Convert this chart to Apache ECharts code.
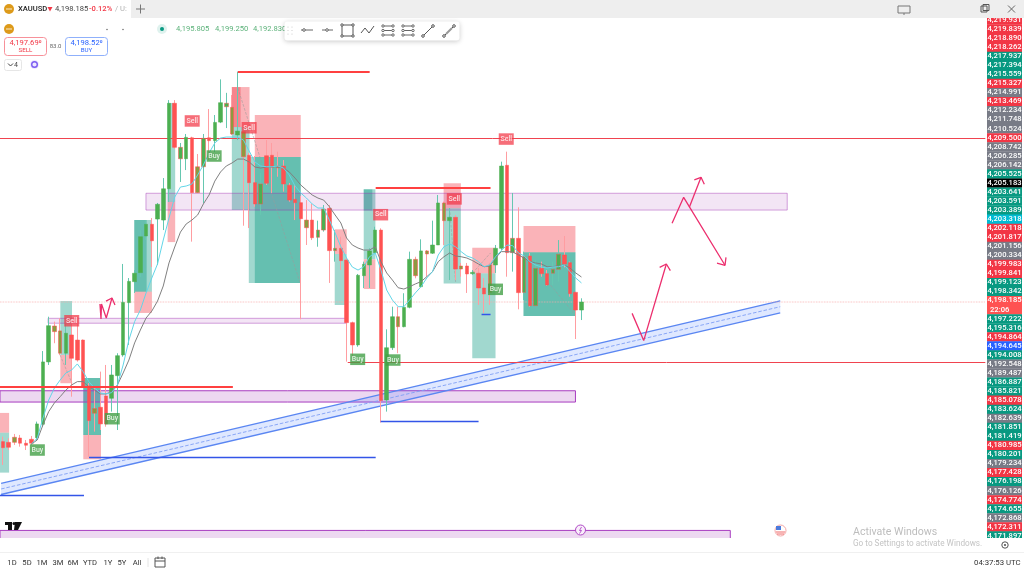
<!DOCTYPE html>
<html><head><meta charset="utf-8"><style>html,body{margin:0;padding:0;background:#fff;overflow:hidden}#c{width:1024px;height:568px}</style></head>
<body><div id="c"></div>
<script src="https://cdn.jsdelivr.net/npm/echarts@6/dist/echarts.min.js"></script>
<script>
// candles: [open, close, low, high]
const candles = [
[4188.55,4188.13,4186.94,4188.89],[4188.50,4188.16,4187.97,4188.78],[4188.85,4188.50,4188.32,4189.08],[4188.80,4188.44,4188.20,4189.01],
[4188.44,4188.30,4187.97,4188.66],[4188.71,4188.44,4188.32,4188.94],[4188.82,4189.77,4188.66,4189.93],[4189.75,4194.05,4189.58,4194.80],
[4194.05,4196.55,4193.84,4197.17],[4196.53,4196.14,4195.34,4196.83],[4196.19,4194.65,4194.53,4197.06],[4194.65,4196.03,4193.84,4196.72],
[4195.91,4194.30,4191.65,4196.72],[4195.56,4194.18,4194.07,4197.17],[4195.56,4192.39,4192.30,4195.60],[4192.39,4190.00,4187.51,4192.58],
[4190.83,4190.51,4189.24,4192.34],[4190.92,4189.77,4189.35,4193.38],[4191.70,4189.77,4189.58,4193.84],[4191.54,4193.15,4190.62,4193.84],
[4193.10,4194.48,4189.35,4194.65],[4194.53,4198.16,4194.41,4200.81],[4198.14,4199.61,4195.22,4199.84],[4199.59,4200.17,4198.81,4200.39],
[4200.21,4202.69,4199.91,4203.15],[4202.74,4203.55,4202.46,4203.84],[4203.55,4202.41,4200.60,4203.98],[4203.91,4204.93,4200.74,4205.02],
[4203.84,4206.00,4203.15,4206.74],[4206.00,4211.90,4205.09,4212.12],[4211.90,4208.86,4208.74,4212.12],[4208.07,4208.86,4206.47,4209.16],
[4208.07,4209.55,4207.29,4209.78],[4209.52,4205.73,4202.35,4209.59],[4207.52,4205.73,4205.71,4208.40],[4207.52,4209.48,4205.02,4209.78],
[4209.52,4209.32,4207.98,4211.50],[4209.32,4210.58,4208.53,4211.09],[4210.60,4211.94,4210.53,4213.55],[4211.66,4211.90,4210.19,4212.62],
[4211.62,4209.78,4209.71,4212.47],[4209.71,4209.98,4209.36,4214.08],[4209.94,4208.21,4203.45,4210.28],[4208.31,4206.42,4203.29,4208.47],
[4206.42,4204.95,4204.76,4208.26],[4204.95,4206.33,4204.19,4207.09],[4208.28,4206.38,4206.26,4209.36],[4208.31,4207.48,4205.71,4209.16],
[4207.57,4207.45,4206.83,4208.56],[4207.57,4206.33,4205.80,4207.98],[4206.24,4205.22,4205.11,4206.40],[4205.27,4205.04,4203.84,4206.26],
[4205.04,4203.93,4196.99,4205.50],[4203.84,4203.31,4202.12,4205.22],[4203.84,4202.62,4202.46,4204.95],[4202.65,4203.15,4202.00,4203.80],
[4203.15,4204.60,4203.04,4204.88],[4204.65,4201.73,4199.50,4204.88],[4201.73,4201.89,4200.97,4203.15],[4201.89,4201.04,4200.39,4202.69],
[4201.08,4196.76,4194.07,4201.22],[4196.76,4195.22,4194.41,4196.83],[4195.22,4200.03,4195.10,4200.12],[4200.00,4200.79,4199.15,4200.97],
[4200.74,4201.71,4199.15,4201.89],[4201.59,4203.15,4201.55,4203.38],[4203.15,4191.38,4189.86,4203.27],[4191.42,4195.03,4190.62,4196.30],
[4195.03,4197.17,4194.87,4197.86],[4197.17,4196.48,4194.65,4197.86],[4196.48,4197.82,4196.44,4198.79],[4197.82,4201.13,4197.75,4201.66],
[4201.13,4200.00,4199.82,4201.31],[4199.24,4201.71,4199.20,4202.51],[4201.71,4201.50,4199.93,4201.77],[4201.55,4202.12,4201.50,4203.80],
[4202.12,4205.02,4202.12,4205.57],[4205.02,4203.80,4202.12,4205.11],[4203.80,4204.03,4199.70,4204.67],[4204.03,4200.46,4199.70,4204.19],
[4200.67,4200.46,4199.93,4200.88],[4200.67,4200.12,4198.81,4200.88],[4200.14,4200.23,4200.05,4200.39],[4200.17,4199.15,4197.98,4200.53],
[4199.15,4198.74,4197.43,4199.84],[4200.74,4198.85,4197.98,4200.88],[4200.74,4201.89,4200.19,4202.12],[4201.89,4207.57,4201.77,4207.87],
[4207.62,4201.59,4199.93,4208.56],[4201.59,4202.58,4200.28,4205.71],[4202.58,4198.83,4197.68,4204.72],[4198.85,4201.31,4198.32,4201.66],
[4201.36,4197.93,4197.86,4201.57],[4197.93,4200.51,4197.86,4201.08],[4200.51,4200.14,4199.93,4200.97],[4200.14,4199.36,4199.30,4200.39],
[4200.17,4200.44,4199.36,4200.97],[4200.44,4201.48,4199.59,4202.46],[4201.43,4200.81,4200.58,4202.74],[4200.90,4198.76,4198.55,4200.97],
[4198.85,4197.63,4195.63,4198.90],[4197.63,4198.185,4196.94,4198.44]];
// candles whose body shows both colours
const mixedBodies = [2,9,10,16,31,34,35,39,40,42,45,48,53,55,56,58,69,72,74,77,80,85,89,91,93,96,97];
const maStart = 5;
const maGrey = [4188.39,4188.66,4189.70,4190.62,4191.22,4191.65,4192.11,4192.46,4192.69,4192.69,4192.34,4192.11,4191.84,4191.84,4192.00,4192.46,4193.29,4194.18,4195.36,4196.25,4197.08,4197.56,4198.25,4199.29,4200.88,4201.98,4203.01,4203.57,4203.84,4204.19,4204.95,4205.57,4206.53,4207.16,4207.57,4207.78,4208.05,4208.05,4207.85,4207.50,4207.43,4207.50,4207.52,4207.52,4207.43,4207.16,4206.74,4206.26,4205.91,4205.57,4205.36,4205.22,4204.76,4204.19,4203.64,4202.60,4202.12,4201.91,4201.77,4201.77,4202.00,4200.97,4200.19,4199.70,4199.17,4199.08,4199.24,4199.43,4199.59,4199.93,4200.28,4200.97,4201.31,4201.57,4201.36,4201.31,4201.22,4201.04,4200.81,4200.62,4200.67,4201.22,4201.66,4201.66,4201.64,4201.43,4201.22,4200.97,4200.88,4200.81,4200.62,4200.62,4200.69,4200.74,4200.53,4200.19,4199.91];
const maCyan = [4188.39,4188.78,4190.18,4191.42,4192.25,4192.80,4193.29,4193.49,4193.91,4193.38,4192.69,4192.25,4191.91,4191.84,4191.93,4192.46,4193.84,4195.56,4196.83,4197.63,4198.81,4199.84,4200.81,4202.46,4203.98,4205.43,4206.12,4206.19,4206.33,4206.95,4207.64,4208.47,4209.16,4209.50,4209.57,4209.57,4209.57,4209.36,4208.60,4207.85,4207.57,4207.52,4207.52,4207.57,4207.43,4206.95,4206.19,4205.71,4205.36,4204.95,4204.67,4204.67,4203.84,4202.95,4202.00,4201.22,4200.60,4200.39,4200.62,4201.31,4201.57,4200.39,4199.01,4198.32,4197.86,4197.86,4198.32,4198.81,4199.24,4199.84,4200.28,4201.43,4202.00,4202.19,4202.00,4201.66,4201.36,4201.22,4200.97,4200.62,4200.74,4201.31,4201.73,4202.12,4202.07,4201.57,4201.36,4200.97,4200.74,4200.60,4200.53,4200.60,4200.62,4200.74,4200.28,4199.84,4199.50];
// boxes: [barFrom, barTo, priceTop, priceBottom]
const tealBoxes = [[23.44,26.52,4203.84,4198.90],[23.44,25.6,4203.84,4198.90],[29.26,30.58,4211.92,4205.09],[40.47,43.56,4210.26,4204.53],[44.48,52.5,4208.19,4199.50],[43.43,52.5,4208.19,4199.50],[10.53,12.57,4198.25,4194.53],[14.54,17.63,4192.94,4189.01],[14.54,17.63,4192.94,4189.01],[0,1.59,4189.17,4186.41],[58.43,60.52,4201.50,4197.98],[63.49,65.53,4205.96,4201.13],[63.49,65.0,4205.96,4204.5],[77.44,80.45,4204.65,4199.47],[82.44,86.5,4200.17,4194.30],[91.39,100.45,4201.62,4197.22],[91.39,100.45,4201.62,4197.22]];
const pinkBoxes = [[23.44,26.52,4198.90,4197.43],[29.26,30.58,4205.09,4202.32],[40.47,43.56,4213.02,4210.26],[40.47,42.0,4213.02,4210.26],[44.48,52.5,4211.09,4208.19],[10.53,12.57,4194.53,4192.58],[14.54,17.63,4189.01,4187.33],[0,1.59,4190.53,4189.17],[58.43,60.52,4203.20,4201.50],[63.49,65.53,4201.13,4199.08],[77.44,80.45,4206.38,4204.65],[82.44,86.5,4201.93,4200.17],[91.39,100.45,4203.43,4201.62]];
const lightZones = [[25.48,137.42,4205.69,4204.53],[8.39,60.35,4197.06,4196.72]];
const deepZones = [[0,100.45,4192.06,4191.28],[0,127.48,4182.42,4181.5]];
// levels: [barFrom, barTo, price]
const thickRedLevels = [[41.52,64.53,4214.06],[65.58,85.63,4206.05],[0,40.65,4192.29]];
const thinRedLevels = [[0,172,4209.50],[60.7,172,4194.04]];
const blueLevels = [[15.54,65.58,4187.49],[0,14.66,4184.84],[66.45,83.54,4189.94],[84.06,85.63,4197.39]];
const lastPrice = 4198.185;
// up-sloping channel: [bar, price] at both ends
const channelTop = [[0.19,4185.66],[136.2,4198.27]];
const channelBottom = [[0.19,4184.90],[136.2,4197.44]];
const channelMid = [[0.19,4185.28],[136.2,4197.86]];
// hand-drawn arrows
const arrows = [
 [[17.45,4198.05],[17.63,4197.01],[17.72,4198.05],[18.55,4197.08],[19.55,4198.46]],
 [[18.5,4198.25],[19.55,4198.46],[20.07,4197.98]],
 [[110.34,4197.40],[112.37,4195.52],[116.32,4200.81]],
 [[115.15,4200.58],[116.32,4200.81],[117.02,4200.35]],
 [[117.32,4203.62],[119.34,4205.41],[126.56,4200.72]],
 [[125.16,4200.86],[126.56,4200.72],[126.73,4201.27]],
 [[120.33,4204.72],[122.37,4206.79]],
 [[121.2,4206.61],[122.37,4206.79],[122.95,4206.31]]];
const dashedRuns = [
 [[41.52,4212.95],[52.33,4199.57]],[[78.48,4204.67],[79.53,4199.57]],[[91.39,4201.57],[100.45,4197.29]],[[10.48,4194.53],[12.57,4192.58]],[[82.5,4200.19],[85.63,4201.57]]];
const sellMarks = [[33.55,4210.68],[43.49,4210.21],[12.52,4196.89],[66.45,4204.21],[79.3,4205.30],[88.37,4209.43]];
const buyMarks = [[37.38,4208.26],[6.52,4187.97],[19.6,4190.13],[62.44,4194.23],[68.6,4194.18],[86.5,4199.06]];
const priceTags = ['4,219.931','4,219.839','4,218.890','4,218.262','4,217.937','4,217.394','4,215.559','4,215.327','4,214.991','4,213.469','4,212.234','4,211.748','4,210.524','4,209.500','4,208.742','4,206.285','4,206.142','4,205.525','4,205.183','4,203.641','4,203.591','4,203.389','4,203.318','4,202.118','4,201.817','4,201.156','4,200.334','4,199.983','4,199.841','4,199.123','4,198.342','4,198.185','22:06','4,197.222','4,195.316','4,194.864','4,194.645','4,194.008','4,192.548','4,189.487','4,186.887','4,185.821','4,185.078','4,183.624','4,182.639','4,181.851','4,181.419','4,180.985','4,180.201','4,179.234','4,177.428','4,176.198','4,176.126','4,174.774','4,174.655','4,172.868','4,172.311','4,171.897'];
const tagTones = 'rrrrgggrnrnnnrnnngkgggcrrnnrrgglLggrbgnnggrgnggrgnrgnrgnrg';
const rangeLabels = ['1D','5D','1M','3M','6M','YTD','1Y','5Y','All'];

const toneColor = {r:'#f23645',g:'#089981',n:'#787b86',k:'#000000',c:'#00bcd4',b:'#2962ff',l:'#ff5252',L:'#ff5252'};
const UP='#4caf50', DOWN='#ff5252';
const cats = Array.from({length:172},(_,i)=>String(i));
const padMA = a => Array(maStart).fill('-').concat(a);

const boxSeries = (data, fill, stroke, z) => ({
  type:'custom', xAxisIndex:1, yAxisIndex:0, clip:true, z, silent:true, data,
  encode:{x:[0,1],y:[2,3]},
  renderItem:(p,api)=>{
    const a=api.coord([api.value(0),api.value(2)]), b=api.coord([api.value(1),api.value(3)]);
    return {type:'rect',shape:{x:a[0],y:a[1],width:b[0]-a[0],height:b[1]-a[1]},
      style:{fill,stroke:stroke||null,lineWidth:stroke?1:0}};
  }});
const pathSeries = (data,color,width,type,z,op) => ({
  type:'line', xAxisIndex:1, yAxisIndex:0, data, showSymbol:false, symbol:'none', silent:true, z,
  lineStyle:{color,width,type:type||'solid',opacity:op==null?1:op}, animation:false});
// horizontal levels, snapped to whole pixels so they stay crisp
const levelSeries = (lv,color,width,z) => ({
  type:'custom', xAxisIndex:1, yAxisIndex:0, clip:true, z, silent:true, data:lv,
  encode:{x:[0,1],y:2},
  renderItem:(p,api)=>{
    const a=api.coord([api.value(0),api.value(2)]), b=api.coord([api.value(1),api.value(2)]);
    const y=width===2?Math.round(a[1]):Math.round(a[1])+0.5;
    return {type:'line',shape:{x1:a[0],y1:y,x2:b[0],y2:y},style:{stroke:color,lineWidth:width}};
  }});
const markSeries = (data,text,bg,z) => ({
  type:'scatter', xAxisIndex:1, yAxisIndex:0, data, symbol:'rect', symbolSize:[15,11.5], z, silent:true,
  itemStyle:{color:bg},
  label:{show:true,position:'inside',formatter:text,color:'#fff',fontSize:7,fontFamily:'Roboto',fontWeight:500}});

const series = [
  boxSeries(tealBoxes,'rgba(0,150,125,0.37)',null,2),
  boxSeries(pinkBoxes,'rgba(242,54,69,0.38)',null,2),
  boxSeries(lightZones,'rgba(156,39,176,0.12)','rgba(156,39,176,0.42)',3),
  boxSeries(deepZones,'rgba(156,39,176,0.18)','#a83cc0',3),
  { type:'custom', xAxisIndex:1, yAxisIndex:0, clip:true, z:3, silent:true, data:[0],
    renderItem:(p,api)=>({type:'polygon',shape:{points:[channelTop[0],channelTop[1],channelBottom[1],channelBottom[0]].map(c=>api.coord(c))},
      style:{fill:'rgba(41,98,255,0.15)'}}) },
  pathSeries(channelTop,'#5a86f2',1.3,'solid',4),
  pathSeries(channelBottom,'#5a86f2',1.3,'solid',4),
  pathSeries(channelMid,'#7f9ff5',0.9,'dashed',4),
  ...dashedRuns.map(d=>pathSeries(d,'#9a9a9a',0.7,'dashed',5,0.8)),
  pathSeries([[0,lastPrice],[172,lastPrice]],'#f9a9a9',0.8,'dotted',5),
  levelSeries(thinRedLevels,'#f0434f',1,5),
  { type:'candlestick', xAxisIndex:0, yAxisIndex:0, z:6, barWidth:1, silent:true, data:candles,
    itemStyle:{color:'#7fd0bd',color0:'#ffa8ab',borderColor:'#66c7b0',borderColor0:'#ff9da1',borderWidth:1} },
  { type:'candlestick', xAxisIndex:0, yAxisIndex:0, z:7, barWidth:4, silent:true,
    data:candles.map((c,i)=>{
      const v=[c[0],c[1],Math.min(c[0],c[1]),Math.max(c[0],c[1])];
      return mixedBodies.includes(i)
        ? {value:v,itemStyle:{color:c[1]>=c[0]?UP:'#8d9a3f',color0:'#c97a43',borderColor:DOWN,borderColor0:UP}}
        : v;
    }),
    itemStyle:{color:UP,color0:DOWN,borderColor:UP,borderColor0:DOWN,borderWidth:0.5} },
  { type:'line', xAxisIndex:0, yAxisIndex:0, z:8, data:padMA(maGrey), showSymbol:false, symbol:'none', silent:true, lineStyle:{color:'#808080',width:1} },
  { type:'line', xAxisIndex:0, yAxisIndex:0, z:8, data:padMA(maCyan), showSymbol:false, symbol:'none', silent:true, lineStyle:{color:'#62d6e8',width:1} },
  levelSeries(thickRedLevels,'#ff4040',2,9),
  levelSeries(blueLevels,'#3355e8',1.5,9),
  ...arrows.map(a=>pathSeries(a,'#ec2f6e',1.3,'solid',10)),
  markSeries(sellMarks,'Sell','rgba(242,54,69,0.9)',11),
  markSeries(buyMarks,'Buy','#43a047',11),
  { type:'custom', xAxisIndex:2, yAxisIndex:1, clip:true, z:12, silent:true,
    data:priceTags.map((t,i)=>[0,i]),
    encode:{y:1},
    renderItem:(p,api)=>{
      const i=api.value(1), s=api.coord([0,i]), h=api.size([0,1])[1], w=api.size([1,0])[0];
      return {type:'group',children:[
        {type:'rect',shape:{x:s[0],y:s[1]-h/2,width:w,height:h+0.3},style:{fill:toneColor[tagTones[i]]}},
        {type:'text',style:{text:priceTags[i],x:tagTones[i]==='L'?s[0]+3:s[0]+w/2,y:s[1],fill:'#fff',font:'500 7.6px Roboto',
          align:tagTones[i]==='L'?'left':'center',verticalAlign:'middle'}}
      ]};
    }}
];

// ----- application frame around the plot -----
const g=[]; const Z=100;
const T=(x,y,text,size,fill,align,weight,fam)=>g.push({type:'text',z:Z,style:{x,y,text,fill,font:`${weight||400} ${size}px ${fam||'Roboto'}`,align:align||'left',verticalAlign:'middle'}});
const R=(x,y,w,h,fill,stroke,r,lw)=>g.push({type:'rect',z:Z,shape:{x,y,width:w,height:h,r:r||0},style:{fill:fill||null,stroke:stroke||null,lineWidth:lw||1}});
const L=(x1,y1,x2,y2,stroke,lw)=>g.push({type:'line',z:Z,shape:{x1,y1,x2,y2},style:{stroke,lineWidth:lw||1}});
const C=(cx,cy,r,fill,stroke,lw)=>g.push({type:'circle',z:Z,shape:{cx,cy,r},style:{fill:fill||null,stroke:stroke||null,lineWidth:lw||1}});
// title bar
R(0,0,1024,18,'#eeeeee');
R(0,0,131,18,'#ffffff');
C(9,9,5,'#dd9a1a');L(6,9,12,9,'#fff',0.8);
T(18,9.5,'XAUUSD',7.6,'#222',null,500);
g.push({type:'polygon',z:Z,shape:{points:[[47.5,7],[52.5,7],[50,11.5]]},style:{fill:'#f23645'}});
T(55,9.5,'4,198.185',7.6,'#444');
T(89,9.5,'-0.12%',7.6,'#f23645',null,500);
T(115,9.5,'/ U:',7.6,'#b0b0b0');
L(136,9,145,9,'#777');L(140.5,4.5,140.5,13.5,'#777');
R(898,6,12,7,null,'#777');L(904,13,904,15,'#777');
R(981,6,6,6,null,'#555');R(983,4.5,6,6,null,'#555');
L(1008,5.5,1015,12.5,'#666');L(1015,5.5,1008,12.5,'#666');
// legend row
C(9,29,5,'#dd9a1a');L(6,29,12,29,'#fff',0.8);
C(107,29.5,0.7,'#555');C(123,29.5,0.7,'#555');
C(162,29,5,'#dff2ee');C(162,29,2,'#089981');
T(176,29.5,'4,195.805',7.6,'#5cb27a');T(215,29.5,'4,199.250',7.6,'#5cb27a');T(253,29.5,'4,192.830',7.6,'#5cb27a');
R(4.5,37.5,42,18,'#fff','#f7919a',3);R(65.5,37.5,42,18,'#fff','#8fb0fb',3);
T(25.5,43,'4,197.69⁰',7.6,'#f23645','center');T(25.5,50.5,'SELL',6.2,'#f23645','center');
T(86.5,43,'4,198.52⁰',7.6,'#2962ff','center');T(86.5,50.5,'BUY',6.2,'#2962ff','center');
T(55.5,46,'83.0',6,'#666','center');
R(4.5,59.5,17,11,'#fff','#e6e6e6',2);T(16,65,'4',7,'#444','center');
L(8,63.5,10.5,66,'#444');L(10.5,66,13,63.5,'#444');
C(34.5,64.5,4.5,'#eee8ff');C(34.5,64.5,2.8,null,'#7b5cf0',1.4);
// drawing toolbar
g.push({type:'rect',z:Z,shape:{x:284.5,y:21.5,width:175,height:19,r:3},style:{fill:'#fff',shadowBlur:5,shadowColor:'rgba(0,0,0,0.22)',shadowOffsetY:1}});
[[288,27],[292,27],[288,30.5],[292,30.5],[288,34],[292,34]].forEach(p=>C(p[0],p[1],0.6,'#c8c8c8'));
L(301,30,313,30,'#666');C(304,30,1.3,'#fff','#666');
L(322,30,333,30,'#666');C(327,30,1.3,'#fff','#666');
R(342,25,11,11,null,'#555');[[342,25],[353,25],[342,36],[353,36]].forEach(p=>C(p[0],p[1],1.2,'#fff','#555'));
g.push({type:'polyline',z:Z,shape:{points:[[361,33],[365,28],[369,33],[374,26]]},style:{stroke:'#555',fill:null,lineWidth:1}});
[[382,26],[382,30.5],[382,35]].forEach(p=>{L(p[0],p[1],393,p[1],'#666');C(p[0]+1,p[1],1.2,'#fff','#666');C(393,p[1],1.2,'#fff','#666');});
[[402,26],[402,30.5],[402,35]].forEach(p=>{L(p[0],p[1],413,p[1],'#666');C(p[0]+1,p[1],1.2,'#fff','#666');C(413,p[1],1.2,'#fff','#666');});
L(423,36,433,26,'#555');C(423,36,1.3,'#fff','#555');C(433,26,1.3,'#fff','#555');
L(444,36,454,26,'#555');L(446,34,452,28,'#999',2);C(444,36,1.3,'#fff','#555');C(454,26,1.3,'#fff','#555');
// TradingView mark, session icons
R(5,522,7,3,'#111');R(8,522,4,8,'#111');g.push({type:'polygon',z:Z,shape:{points:[[15,522],[22,522],[18,530],[14,530]]},style:{fill:'#111'}});C(14,523.5,1.5,'#111');
C(580.5,530,5,'#f9eefb','#b04ac6',1);g.push({type:'polyline',z:Z,shape:{points:[[581.5,527],[579.5,530.5],[581.5,530.5],[579.5,533.5]]},style:{stroke:'#b04ac6',fill:null,lineWidth:0.9}});
C(780.5,530.5,5.5,'#ffffff','#f4a6a6',1);g.push({type:'rect',z:Z,shape:{x:776,y:526,width:5,height:4},style:{fill:'#4b7bdc'}});L(776,532,785,532,'#ef6a6a',1);L(777,534,784,534,'#ef6a6a',1);
// hide overflow of the tag column
R(986,538,38,14,'#ffffff');
T(853,532,'Activate Windows',10.6,'#bdbdbd');
T(853,544,'Go to Settings to activate Windows.',8.2,'#c4c4c4');
C(1005,545,3.2,null,'#555',1);C(1005,545,1.1,'#555');
// range bar
L(0,552.5,1024,552.5,'#f0f0f0');
[12,27,42,58,73,90,108,122,137].forEach((x,i)=>T(x,563,rangeLabels[i],7.6,'#333','center'));
L(148,558,148,567,'#e4e4e4');
R(155,558,10,9,null,'#555');L(155,561,165,561,'#555');L(158,556.5,158,559,'#555');L(162,556.5,162,559,'#555');
T(974,563,'04:37:53 UTC',7.8,'#333');

const chart = echarts.init(document.getElementById('c'),null,{renderer:'canvas'});
chart.setOption({
  animation:false, backgroundColor:'#ffffff',
  grid:[{left:-1.1,top:18,width:986.42,height:520,containLabel:false},{left:987,top:15.5,width:35,height:524.9}],
  xAxis:[
    {type:'category',gridIndex:0,data:cats,show:false,boundaryGap:true},
    {type:'value',gridIndex:0,min:0,max:172,show:false},
    {type:'value',gridIndex:1,min:0,max:1,show:false}],
  yAxis:[
    {type:'value',gridIndex:0,min:4181.898,max:4217.785,show:false,scale:true,splitLine:{show:false}},
    {type:'category',gridIndex:1,data:priceTags,inverse:true,show:false}],
  series, graphic:{elements:g}
});
</script></body></html>
